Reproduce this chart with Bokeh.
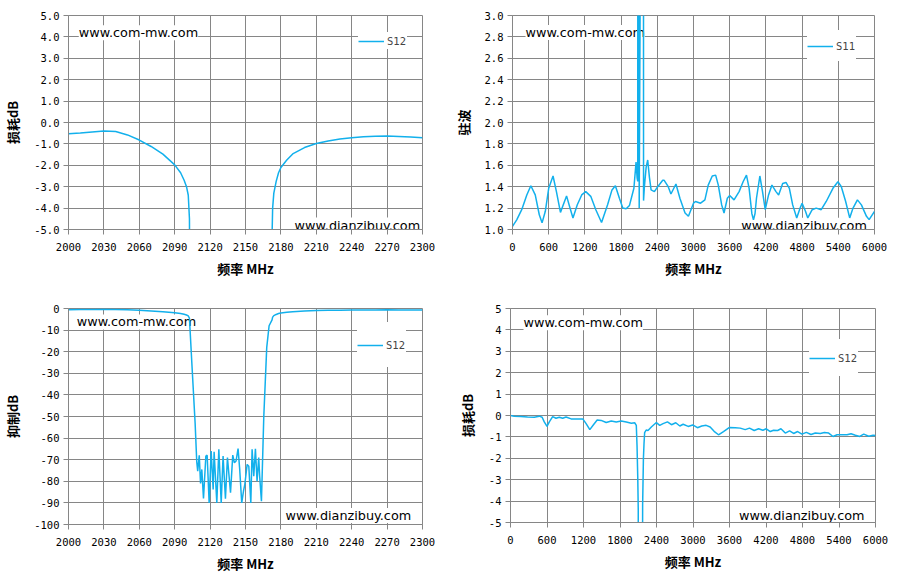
from bokeh.plotting import figure
from bokeh.models import Range1d, FixedTicker, PrintfTickFormatter, Label, Legend, LegendItem
from bokeh.layouts import column, row
from bokeh.embed import file_html
from bokeh.resources import INLINE
from bokeh.core.properties import value

# ---------------- data ----------------
# narrow-band S12 (MHz, dB) - used for the loss (top-left) and rejection (bottom-left) views
nb_freq = [2000, 2010, 2020, 2030, 2040, 2050, 2060, 2070, 2080, 2090, 2095, 2098, 2100,
           2101.5, 2102.5, 2104.5, 2107.3, 2108.7,
           2109.5, 2110.8, 2111.9, 2113, 2114.4, 2116.4, 2117.5, 2119.2, 2120.9, 2122.6,
           2123.4, 2125.7, 2127.4, 2129.4, 2131, 2133, 2134.7, 2137.3, 2139.2, 2140.6,
           2142, 2143.7, 2145.1, 2146.8, 2148.3, 2149.4, 2151.4, 2152.8, 2154.5, 2155.6,
           2157, 2158.4, 2159.8, 2161.2, 2162, 2163.5,
           2165.5, 2168, 2170, 2172.5, 2173, 2174, 2176, 2178, 2180, 2185, 2190, 2200,
           2210, 2220, 2230, 2240, 2250, 2260, 2270, 2280, 2290, 2300]
nb_s12 = [-0.53, -0.49, -0.44, -0.40, -0.42, -0.58, -0.82, -1.12, -1.48, -1.98, -2.35, -2.7, -3.0,
          -3.4, -4.5, -25, -53, -71,
          -75.3, -68, -81, -74.5, -88, -68.3, -67.9, -90, -66, -83.8,
          -66.3, -90, -65.2, -90, -68.3, -88.1, -69, -85.3, -67.9, -71.4,
          -70.6, -64.9, -74.5, -90, -84.5, -81.5, -72.2, -73, -90, -65.2,
          -77.6, -64.9, -80, -69, -77.6, -89.2,
          -50, -18, -8, -5.3, -4.0, -3.3, -2.75, -2.35, -2.1, -1.75, -1.47, -1.17,
          -0.98, -0.86, -0.77, -0.71, -0.67, -0.64, -0.63, -0.65, -0.68, -0.71]

# wide-band S11 VSWR
wb11_freq = [0, 70, 153, 237, 304, 377, 444, 490, 544, 600, 672, 728, 795, 851, 896, 946, 1002,
             1074, 1147, 1214, 1297, 1381, 1476, 1576, 1649, 1705, 1772, 1828, 1883, 1939,
             2012, 2048, 2066, 2076, 2084, 2100, 2116, 2130, 2165, 2172, 2186, 2215, 2241,
             2269, 2297, 2352, 2407, 2490, 2514, 2581, 2626, 2709, 2776, 2860, 2916, 3000,
             3033, 3117, 3189, 3244, 3311, 3367, 3411, 3467, 3506, 3561, 3600, 3672, 3756,
             3822, 3878, 3922, 3967, 3994, 4020, 4044, 4100, 4144, 4189, 4244, 4300, 4367,
             4411, 4478, 4533, 4589, 4644, 4711, 4767, 4800, 4856, 4894, 4967, 5033, 5117,
             5200, 5311, 5394, 5450, 5522, 5589, 5644, 5717, 5783, 5867, 5911, 6000]
wb11_vswr = [1.03, 1.09, 1.185, 1.323, 1.409, 1.323, 1.138, 1.062, 1.17, 1.385, 1.50, 1.354,
             1.16, 1.246, 1.314, 1.215, 1.108, 1.231, 1.323, 1.354, 1.31, 1.185, 1.065,
             1.231, 1.37, 1.409, 1.292, 1.2, 1.194, 1.225, 1.385, 1.63, 1.48, 1.45, 20,
             1.2, 3.2, 20, 20, 1.27, 1.40, 1.58, 1.65, 1.49, 1.37, 1.354, 1.40, 1.46, 1.46,
             1.40, 1.332, 1.425, 1.29, 1.154, 1.123, 1.246, 1.262, 1.246, 1.277, 1.415,
             1.50, 1.508, 1.415, 1.23, 1.154, 1.292, 1.317, 1.277, 1.354, 1.446, 1.508,
             1.385, 1.15, 1.09, 1.15, 1.292, 1.50, 1.354, 1.185, 1.323, 1.415, 1.354, 1.323,
             1.43, 1.44, 1.385, 1.23, 1.108, 1.2, 1.246, 1.17, 1.108, 1.185, 1.2, 1.185,
             1.262, 1.385, 1.446, 1.4, 1.262, 1.108, 1.2, 1.277, 1.23, 1.123, 1.092, 1.17]

# wide-band S12 loss
wb12_freq = [0, 60, 170, 280, 390, 473, 520, 555, 600, 638, 693, 748, 803, 858, 913, 996, 1106,
             1188, 1243, 1304, 1370, 1425, 1490, 1573, 1656, 1738, 1820, 1903, 1986, 2041,
             2068, 2080, 2092, 2100, 2108, 2160, 2172, 2185, 2195, 2205, 2230, 2260, 2315,
             2398, 2453, 2508, 2580, 2646, 2717, 2783, 2838, 2921, 2995, 3073, 3144, 3216,
             3282, 3347, 3419, 3501, 3600, 3693, 3776, 3858, 3929, 4006, 4078, 4149, 4204,
             4270, 4325, 4391, 4446, 4517, 4588, 4654, 4720, 4791, 4863, 4940, 5011, 5093,
             5159, 5230, 5302, 5368, 5450, 5532, 5598, 5669, 5741, 5807, 5889, 5961, 6000]
wb12_loss = [0.0, -0.03, -0.05, -0.07, -0.08, -0.03, -0.08, -0.3, -0.51, -0.3, -0.05, -0.13,
             -0.08, -0.13, -0.07, -0.16, -0.16, -0.16, -0.38, -0.66, -0.41, -0.21, -0.23,
             -0.33, -0.26, -0.3, -0.26, -0.3, -0.36, -0.34, -0.46, -1.4, -2.9, -4.4, -30,
             -30, -4.2, -2.0, -1.3, -0.8, -0.68, -0.7, -0.54, -0.33, -0.46, -0.38, -0.3,
             -0.43, -0.34, -0.49, -0.41, -0.51, -0.44, -0.57, -0.49, -0.46, -0.54, -0.74,
             -0.9, -0.75, -0.56, -0.57, -0.59, -0.66, -0.59, -0.7, -0.62, -0.69, -0.62,
             -0.75, -0.69, -0.7, -0.62, -0.82, -0.72, -0.84, -0.75, -0.87, -0.79, -0.89,
             -0.82, -0.84, -0.79, -0.82, -0.98, -0.9, -0.9, -0.9, -0.85, -0.92, -0.98,
             -0.87, -0.97, -0.92, -0.93]

nb_xticks = [2000, 2030, 2060, 2090, 2120, 2150, 2180, 2210, 2240, 2270, 2300]
wb_xticks = [0, 600, 1200, 1800, 2400, 3000, 3600, 4200, 4800, 5400, 6000]
loss_yticks = [-5, -4, -3, -2, -1, 0, 1, 2, 3, 4, 5]
vswr_yticks = [1.0, 1.2, 1.4, 1.6, 1.8, 2.0, 2.2, 2.4, 2.6, 2.8, 3.0]
rej_yticks = [-100, -90, -80, -70, -60, -50, -40, -30, -20, -10, 0]

# ---------------- style ----------------
GRID = "#868686"
LINE = "#12B0EC"
TICK_FONT = "DejaVu Sans Mono"
TICK_SIZE = "10.5px"
TITLE_FONT = "Noto Sans CJK SC"
WM_FONT = "DejaVu Sans"


def make_fig(fw, fh, bl, br, bt, bb, xr, yr, xticks, yticks, yfmt, ylabel):
    p = figure(frame_width=fw, frame_height=fh, x_range=Range1d(*xr), y_range=Range1d(*yr),
               output_backend="svg", toolbar_location=None,
               min_border_left=bl, min_border_right=br, min_border_top=bt, min_border_bottom=bb)
    p.background_fill_color = "white"
    p.border_fill_color = "white"
    p.outline_line_color = GRID
    p.xaxis.ticker = FixedTicker(ticks=xticks)
    p.yaxis.ticker = FixedTicker(ticks=yticks)
    p.xaxis.formatter = PrintfTickFormatter(format="%d")
    p.yaxis.formatter = PrintfTickFormatter(format=yfmt)
    p.axis.axis_line_color = GRID
    p.axis.major_tick_line_color = GRID
    p.axis.major_tick_out = 5
    p.axis.major_tick_in = 0
    p.axis.minor_tick_line_color = None
    p.axis.major_label_text_font = TICK_FONT
    p.axis.major_label_text_font_size = TICK_SIZE
    p.axis.major_label_text_color = "#000000"
    p.xaxis.major_label_standoff = 8
    p.yaxis.major_label_standoff = 4
    p.axis.axis_label_text_font = TITLE_FONT
    p.axis.axis_label_text_font_style = "bold"
    p.axis.axis_label_text_font_size = "13px"
    p.axis.axis_label_text_color = "#000000"
    p.xaxis.axis_label = "频率 MHz"
    p.yaxis.axis_label = ylabel
    p.xaxis.axis_label_standoff = 5
    p.yaxis.axis_label_standoff = 9
    p.grid.grid_line_color = GRID
    p.grid.grid_line_width = 1
    return p


def add_marks(p, xs, ys, name, loc, lh, wm1, wm2):
    for (lx, ly, txt) in (wm1, wm2):
        p.add_layout(Label(x=lx, y=ly, text=txt, text_font=WM_FONT, text_font_size="12.8px",
                           text_baseline="middle", text_align="left", text_color="#000000",
                           background_fill_color="white", level="underlay"))
    r = p.line(xs, ys, line_color=LINE, line_width=1.5)
    leg = Legend(items=[LegendItem(label=value(name), renderers=[r])], location=loc,
                 padding=4, margin=0, spacing=0, glyph_width=26, glyph_height=10,
                 label_height=lh, label_standoff=3, label_text_font=TICK_FONT,
                 label_text_font_size=TICK_SIZE, border_line_color=None,
                 background_fill_color="white", background_fill_alpha=1.0)
    p.add_layout(leg)


p1 = make_fig(354, 214, 60, 28, 12, 54, (2000, 2300), (-5, 5), nb_xticks, loss_yticks, "%.1f", "损耗dB")
add_marks(p1, nb_freq, nb_s12, "S12", (290, 180), 17,
          (2008.7, 4.19, "www.com-mw.com"), (2191.6, -4.79, "www.dianzibuy.com"))

p2 = make_fig(362, 214, 60, 17, 15, 51, (0, 6000), (1, 3), wb_xticks, vswr_yticks, "%.1f", "驻波")
add_marks(p2, wb11_freq, wb11_vswr, "S11", (295, 168), 31,
          (216, 2.841, "www.com-mw.com"), (3792, 1.04, "www.dianzibuy.com"))

p3 = make_fig(354, 216, 60, 28, 25, 42, (2000, 2300), (-100, 0), nb_xticks, rej_yticks, "%d", "抑制dB")
add_marks(p3, nb_freq, nb_s12, "S12", (289, 157), 45,
          (2007, -6.2, "www.com-mw.com"), (2184, -95.8, "www.dianzibuy.com"))

p4 = make_fig(365, 214, 60, 14, 28, 41, (0, 6000), (-5, 5), wb_xticks, loss_yticks, "%d", "损耗dB")
add_marks(p4, wb12_freq, wb12_loss, "S12", (299, 146), 37,
          (214, 4.33, "www.com-mw.com"), (3755, -4.67, "www.dianzibuy.com"))

layout = column(row(p1, p2), row(p3, p4))

open("out.html", "w").write(file_html(layout, INLINE))
